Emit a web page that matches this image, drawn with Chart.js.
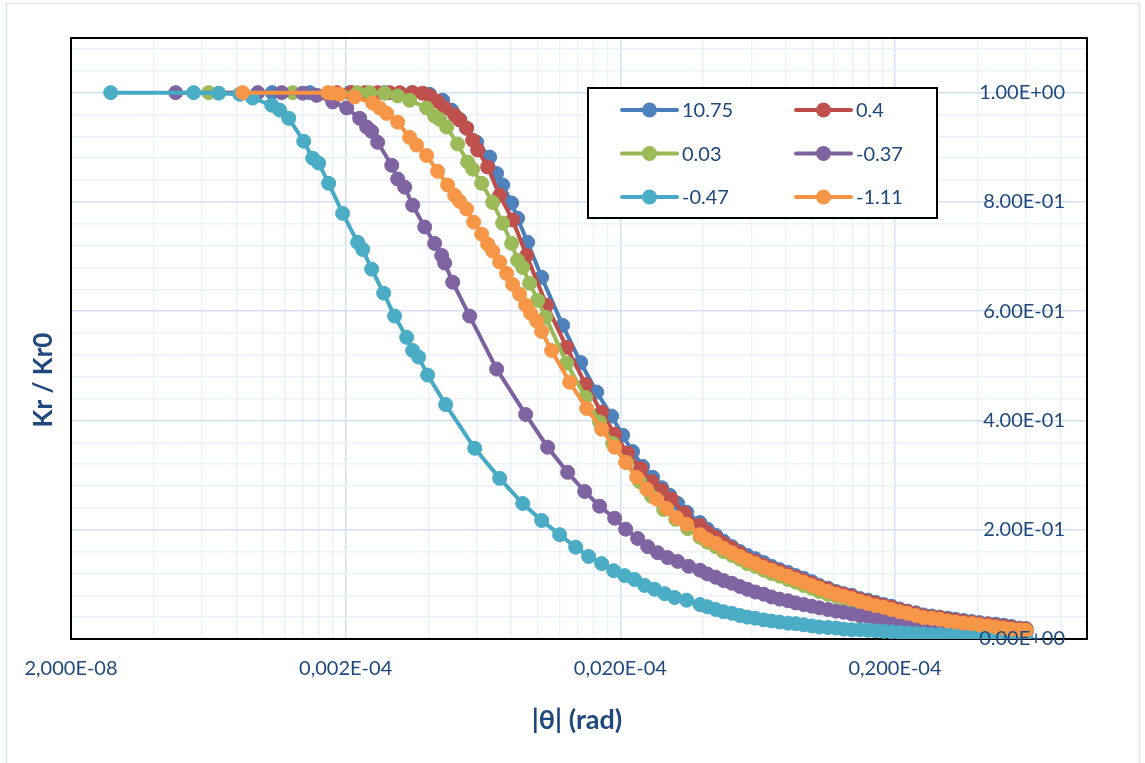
<!DOCTYPE html>
<html>
<head>
<meta charset="utf-8">
<script src="https://cdn.jsdelivr.net/npm/chart.js@4.4.1/dist/chart.umd.min.js"></script>
<style>
  html, body { margin: 0; padding: 0; background: #fff; }
</style>
</head>
<body>
<canvas id="krChart" width="1145" height="763"></canvas>
<script>
// series names as shown in the legend
const seriesNames = ['10.75', '0.4', '0.03', '-0.37', '-0.47', '-1.11'];

// x tick labels (log axis) and the values they sit on
const xMajorTicks = [2e-8, 2e-7, 2e-6, 2e-5];
const xTickLabels = ['2,000E-08', '0,002E-04', '0,020E-04', '0,200E-04'];
// y tick labels
const yTickValues = [0, 0.2, 0.4, 0.6, 0.8, 1.0];
const yTickLabels = ['0.00E+00', '2.00E-01', '4.00E-01', '6.00E-01', '8.00E-01', '1.00E+00'];

// |theta| where the dense tails were read (shared by all series)
const tailTheta = [3.9e-6, 4.15e-6, 4.45e-6, 4.75e-6, 5.1e-6, 5.45e-6, 5.8e-6, 6.2e-6, 6.65e-6, 7.1e-6,
  7.6e-6, 8.15e-6, 8.7e-6, 9.3e-6, 9.95e-6, 1.06e-5, 1.14e-5, 1.22e-5, 1.3e-5, 1.39e-5,
  1.49e-5, 1.59e-5, 1.7e-5, 1.82e-5, 1.94e-5, 2.08e-5, 2.22e-5, 2.38e-5, 2.54e-5, 2.72e-5,
  2.91e-5, 3.11e-5, 3.32e-5, 3.55e-5, 3.8e-5, 4.06e-5, 4.35e-5, 4.65e-5, 4.97e-5, 5.3e-5,
  5.68e-5, 6.0e-5];

// 10.75
const blueTheta = [1.08e-7, 1.48e-7, 2.07e-7, 2.77e-7, 3.48e-7, 4.04e-7, 4.51e-7, 4.86e-7, 5.2e-7, 5.51e-7,
  6.0e-7, 6.69e-7, 7.09e-7, 7.46e-7, 8.04e-7, 8.45e-7, 9.19e-7, 1.034e-6, 1.233e-6, 1.434e-6,
  1.64e-6, 1.859e-6, 2.039e-6, 2.217e-6, 2.411e-6, 2.622e-6, 2.828e-6, 3.024e-6, 3.234e-6, 3.487e-6];
const blueKr = [1.000, 1.000, 1.000, 1.000, 1.000, 0.997, 0.986, 0.968, 0.951, 0.935,
  0.909, 0.882, 0.852, 0.831, 0.798, 0.770, 0.726, 0.662, 0.574, 0.506,
  0.452, 0.408, 0.373, 0.343, 0.316, 0.296, 0.277, 0.263, 0.248, 0.232];
const blueTail = [0.213, 0.201, 0.190, 0.179, 0.169, 0.160, 0.153, 0.147, 0.140, 0.133,
  0.127, 0.122, 0.116, 0.111, 0.105, 0.098, 0.093, 0.087, 0.083, 0.080,
  0.074, 0.071, 0.067, 0.063, 0.060, 0.055, 0.051, 0.048, 0.044, 0.042,
  0.040, 0.038, 0.036, 0.034, 0.032, 0.030, 0.028, 0.027, 0.025, 0.023, 0.020, 0.019];

// 0.4
const redTheta = [1.855e-7, 2.103e-7, 2.345e-7, 2.615e-7, 2.893e-7, 3.146e-7, 3.507e-7, 3.814e-7, 4.044e-7, 4.324e-7,
  4.586e-7, 4.987e-7, 5.2e-7, 5.514e-7, 5.8e-7, 6.047e-7, 6.576e-7, 7.272e-7, 8.107e-7, 9.117e-7,
  1.078e-6, 1.275e-6, 1.495e-6, 1.71e-6, 1.907e-6, 2.126e-6, 2.371e-6, 2.6e-6, 2.828e-6, 3.075e-6, 3.429e-6];
const redKr = [1.000, 1.000, 1.000, 1.000, 1.000, 1.000, 1.000, 0.999, 0.994, 0.984,
  0.972, 0.959, 0.950, 0.935, 0.913, 0.895, 0.864, 0.812, 0.767, 0.702,
  0.611, 0.534, 0.466, 0.415, 0.375, 0.340, 0.312, 0.288, 0.272, 0.256, 0.230];
const redTail = [0.208, 0.195, 0.186, 0.175, 0.166, 0.157, 0.147, 0.142, 0.135, 0.129,
  0.124, 0.118, 0.113, 0.107, 0.102, 0.096, 0.091, 0.085, 0.082, 0.078,
  0.072, 0.069, 0.065, 0.061, 0.058, 0.053, 0.050, 0.046, 0.042, 0.040,
  0.039, 0.036, 0.034, 0.032, 0.030, 0.028, 0.027, 0.025, 0.023, 0.021, 0.019, 0.018];

// 0.03
const greenTheta = [6.34e-8, 1.283e-7, 2.212e-7, 2.446e-7, 2.774e-7, 3.093e-7, 3.42e-7, 3.943e-7, 4.217e-7, 4.397e-7,
  4.663e-7, 5.113e-7, 5.56e-7, 5.8e-7, 6.254e-7, 6.857e-7, 7.455e-7, 8.04e-7, 8.454e-7, 8.82e-7,
  9.351e-7, 1.0e-6, 1.069e-6, 1.275e-6, 1.495e-6, 1.681e-6, 1.875e-6, 2.108e-6, 2.351e-6, 2.6e-6,
  2.876e-6, 3.18e-6, 3.516e-6];
const greenKr = [1.000, 1.000, 1.000, 1.000, 0.999, 0.994, 0.986, 0.972, 0.957, 0.951,
  0.937, 0.906, 0.873, 0.860, 0.834, 0.799, 0.761, 0.724, 0.693, 0.680,
  0.651, 0.620, 0.589, 0.505, 0.442, 0.397, 0.358, 0.323, 0.288, 0.261,
  0.237, 0.219, 0.202];
const greenTail = [0.186, 0.177, 0.169, 0.160, 0.153, 0.146, 0.138, 0.133, 0.126, 0.120,
  0.115, 0.109, 0.104, 0.098, 0.093, 0.087, 0.082, 0.078, 0.074, 0.071,
  0.065, 0.061, 0.058, 0.054, 0.050, 0.047, 0.044, 0.040, 0.037, 0.035,
  0.033, 0.030, 0.028, 0.027, 0.025, 0.023, 0.021, 0.019, 0.018, 0.017, 0.015, 0.014];

// -0.37
const purpleTheta = [4.81e-8, 9.57e-8, 1.17e-7, 1.395e-7, 1.568e-7, 1.794e-7, 2.017e-7, 2.249e-7, 2.385e-7, 2.487e-7,
  2.615e-7, 2.942e-7, 3.093e-7, 3.28e-7, 3.507e-7, 3.879e-7, 4.217e-7, 4.472e-7, 4.586e-7, 4.904e-7,
  5.656e-7, 7.091e-7, 9.041e-7, 1.087e-6, 1.286e-6, 1.483e-6, 1.681e-6, 1.907e-6, 2.091e-6, 2.312e-6,
  2.515e-6, 2.734e-6, 2.974e-6, 3.234e-6, 3.546e-6];
const purpleKr = [1.000, 1.000, 1.000, 0.999, 0.995, 0.983, 0.972, 0.953, 0.937, 0.929,
  0.909, 0.867, 0.842, 0.827, 0.794, 0.754, 0.724, 0.702, 0.688, 0.653,
  0.591, 0.494, 0.411, 0.351, 0.305, 0.270, 0.243, 0.221, 0.201, 0.184,
  0.169, 0.158, 0.149, 0.142, 0.133];
const purpleTail = [0.126, 0.119, 0.113, 0.107, 0.102, 0.096, 0.091, 0.086, 0.082, 0.077,
  0.073, 0.070, 0.066, 0.063, 0.060, 0.057, 0.054, 0.051, 0.049, 0.046,
  0.043, 0.041, 0.039, 0.037, 0.034, 0.032, 0.031, 0.029, 0.028, 0.027,
  0.026, 0.024, 0.023, 0.022, 0.020, 0.019, 0.018, 0.017, 0.016, 0.015, 0.014, 0.012];

// -0.47
const cyanTheta = [2.79e-8, 5.59e-8, 6.9e-8, 8.23e-8, 9.17e-8, 1.076e-7, 1.15e-7, 1.241e-7, 1.407e-7, 1.517e-7,
  1.595e-7, 1.734e-7, 1.95e-7, 2.212e-7, 2.306e-7, 2.487e-7, 2.75e-7, 3.015e-7, 3.335e-7, 3.507e-7,
  3.688e-7, 3.977e-7, 4.624e-7, 5.898e-7, 7.272e-7, 8.82e-7, 1.034e-6, 1.202e-6, 1.375e-6, 1.533e-6,
  1.71e-6, 1.891e-6, 2.074e-6, 2.254e-6, 2.452e-6, 2.666e-6, 2.9e-6, 3.154e-6, 3.487e-6];
const cyanKr = [1.000, 1.000, 0.999, 0.997, 0.990, 0.977, 0.968, 0.953, 0.911, 0.880,
  0.871, 0.834, 0.779, 0.726, 0.713, 0.677, 0.633, 0.591, 0.552, 0.528,
  0.516, 0.483, 0.429, 0.349, 0.294, 0.248, 0.217, 0.191, 0.168, 0.151,
  0.138, 0.125, 0.116, 0.109, 0.098, 0.091, 0.083, 0.076, 0.071];
const cyanTail = [0.063, 0.059, 0.054, 0.050, 0.047, 0.043, 0.040, 0.038, 0.035, 0.033,
  0.031, 0.029, 0.028, 0.026, 0.024, 0.022, 0.021, 0.020, 0.018, 0.017,
  0.017, 0.016, 0.015, 0.014, 0.013, 0.012, 0.011, 0.010, 0.009, 0.008,
  0.008, 0.007, 0.006, 0.006, 0.005, 0.005, 0.004, 0.004, 0.003, 0.003, 0.002, 0.002];

// -1.11
const orangeTheta = [8.43e-8, 1.72e-7, 1.794e-7, 1.902e-7, 2.157e-7, 2.508e-7, 2.66e-7, 2.82e-7, 3.093e-7, 3.42e-7,
  3.627e-7, 3.943e-7, 4.324e-7, 4.702e-7, 4.987e-7, 5.2e-7, 5.514e-7, 5.848e-7, 6.254e-7, 6.576e-7,
  6.857e-7, 7.272e-7, 7.71e-7, 8.107e-7, 8.598e-7, 9.041e-7, 9.431e-7, 9.917e-7, 1.034e-6, 1.124e-6,
  1.308e-6, 1.508e-6, 1.71e-6, 1.907e-6, 2.091e-6, 2.293e-6, 2.494e-6, 2.711e-6, 2.949e-6, 3.206e-6, 3.487e-6];
const orangeKr = [1.000, 1.000, 0.999, 0.997, 0.992, 0.981, 0.972, 0.962, 0.946, 0.918,
  0.904, 0.885, 0.856, 0.831, 0.812, 0.801, 0.787, 0.763, 0.741, 0.723,
  0.710, 0.690, 0.669, 0.649, 0.631, 0.611, 0.596, 0.582, 0.563, 0.528,
  0.470, 0.422, 0.384, 0.351, 0.323, 0.296, 0.274, 0.256, 0.239, 0.222, 0.210];
const orangeTail = [0.191, 0.182, 0.175, 0.166, 0.158, 0.151, 0.144, 0.138, 0.131, 0.126,
  0.120, 0.115, 0.109, 0.104, 0.098, 0.093, 0.087, 0.082, 0.078, 0.074,
  0.069, 0.065, 0.061, 0.058, 0.054, 0.050, 0.047, 0.043, 0.039, 0.038,
  0.036, 0.033, 0.031, 0.029, 0.028, 0.026, 0.024, 0.022, 0.020, 0.018, 0.017, 0.016];

const lineColors = ['#4A7EBB', '#BE4B48', '#98B954', '#7D60A0', '#46AAC5', '#F69240'];
const markerColors = ['#4F81BD', '#C0504D', '#9BBB59', '#8064A2', '#4BACC6', '#F79646'];
const textColor = '#1F497D';
const majorGrid = '#D3E0F1';
const minorGrid = '#EBF1F9';

const seriesParts = [
  [blueTheta, blueKr, blueTail],
  [redTheta, redKr, redTail],
  [greenTheta, greenKr, greenTail],
  [purpleTheta, purpleKr, purpleTail],
  [cyanTheta, cyanKr, cyanTail],
  [orangeTheta, orangeKr, orangeTail]
];

function toPoints(theta, kr, tail) {
  const pts = theta.map((t, i) => ({ x: t, y: kr[i] }));
  tailTheta.forEach((t, i) => pts.push({ x: t, y: tail[i] }));
  return pts;
}

// grid positions: Excel-style log minor lines at k * (decade start)
const xGridValues = [];
xMajorTicks.forEach(m => {
  for (let k = 1; k <= 9; k++) {
    if (m * k <= 1e-4 * 1.000001) xGridValues.push(m * k);
  }
});
const yGridValues = [];
for (let i = 0; i <= 27; i++) yGridValues.push(Math.round(i * 4) / 100);

const isMajorX = v => xMajorTicks.some(m => Math.abs(v / m - 1) < 1e-6);
const isMajorY = v => Math.abs(v * 5 - Math.round(v * 5)) < 1e-6;

const decor = {
  id: 'decor',
  beforeDraw(chart) {
    const ctx = chart.ctx;
    ctx.save();
    ctx.fillStyle = '#fff';
    ctx.fillRect(0, 0, chart.width, chart.height);
    ctx.strokeStyle = '#D9E3F1';
    ctx.lineWidth = 1.5;
    ctx.strokeRect(6.5, 3.5, 1133, 780);
    ctx.restore();
  },
  beforeDatasetsDraw(chart) {
    const ctx = chart.ctx, a = chart.chartArea;
    ctx.save();
    ctx.strokeStyle = '#000';
    ctx.lineWidth = 2;
    ctx.strokeRect(a.left, a.top, a.right - a.left, a.bottom - a.top);
    ctx.restore();
  },
  afterDatasetsDraw(chart) {
    const ctx = chart.ctx, a = chart.chartArea, ys = chart.scales.y;
    ctx.save();
    // y tick labels, drawn inside the plot on the right
    ctx.font = '20px Lato';
    ctx.fillStyle = textColor;
    ctx.textAlign = 'right';
    ctx.textBaseline = 'middle';
    yTickValues.forEach((v, i) => ctx.fillText(yTickLabels[i], a.right - 22, ys.getPixelForValue(v)));

    // axis titles
    ctx.textAlign = 'center';
    ctx.font = 'bold 27px Lato';
    ctx.fillText('|\u03b8| (rad)', 577, 720);
    ctx.font = 'bold 26px Lato';
    ctx.save();
    ctx.translate(44, 380);
    ctx.rotate(-Math.PI / 2);
    ctx.fillText('Kr / Kr0', 0, 0);
    ctx.restore();

    // legend box
    ctx.fillStyle = '#fff';
    ctx.fillRect(588, 88, 349, 130);
    ctx.strokeStyle = '#000';
    ctx.lineWidth = 2;
    ctx.strokeRect(588, 88, 349, 130);
    ctx.font = '20px Lato';
    ctx.textAlign = 'left';
    chart.data.datasets.forEach((ds, i) => {
      const x0 = i % 2 ? 796 : 622;
      const y = 110 + Math.floor(i / 2) * 43.5;
      ctx.strokeStyle = lineColors[i];
      ctx.lineWidth = 4;
      ctx.lineCap = 'round';
      ctx.beginPath();
      ctx.moveTo(x0, y);
      ctx.lineTo(x0 + 55, y);
      ctx.stroke();
      ctx.fillStyle = markerColors[i];
      ctx.beginPath();
      ctx.arc(x0 + 27.5, y, 7.5, 0, Math.PI * 2);
      ctx.fill();
      ctx.fillStyle = textColor;
      ctx.fillText(ds.label, x0 + 60, y + 1);
    });
    ctx.restore();
  }
};

new Chart(document.getElementById('krChart').getContext('2d'), {
  type: 'line',
  data: {
    datasets: seriesNames.map((name, i) => ({
      label: name,
      data: toPoints(...seriesParts[i]),
      borderColor: lineColors[i],
      backgroundColor: markerColors[i],
      pointBackgroundColor: markerColors[i],
      pointBorderColor: markerColors[i],
      pointBorderWidth: 1,
      pointRadius: 7,
      borderWidth: 4,
      tension: 0,
      fill: false,
      order: seriesNames.length - i
    }))
  },
  options: {
    responsive: false,
    animation: false,
    events: [],
    layout: { padding: { left: 71, top: 38, right: 0, bottom: 0 } },
    plugins: {
      legend: { display: false },
      tooltip: { enabled: false }
    },
    scales: {
      x: {
        type: 'logarithmic',
        position: 'bottom',
        min: 2e-8,
        max: 1e-4,
        afterBuildTicks: scale => { scale.ticks = xGridValues.map(v => ({ value: v })); },
        afterFit: scale => { scale.height = 124; },
        border: { display: false },
        grid: {
          drawTicks: false,
          lineWidth: 1.5,
          color: c => (c.tick && isMajorX(c.tick.value) ? majorGrid : minorGrid)
        },
        ticks: {
          autoSkip: false,
          maxRotation: 0,
          minRotation: 0,
          padding: 18,
          color: textColor,
          font: { family: 'Lato', size: 20 },
          callback: v => {
            const i = xMajorTicks.findIndex(m => Math.abs(v / m - 1) < 1e-6);
            return i >= 0 ? xTickLabels[i] : '';
          }
        }
      },
      y: {
        type: 'linear',
        position: 'right',
        min: 0,
        max: 1.1,
        afterBuildTicks: scale => { scale.ticks = yGridValues.map(v => ({ value: v })); },
        afterFit: scale => { scale.width = 58; },
        border: { display: false },
        grid: {
          drawTicks: false,
          lineWidth: 1.5,
          color: c => (c.tick && isMajorY(c.tick.value) ? majorGrid : minorGrid)
        },
        ticks: { display: false }
      }
    }
  },
  plugins: [decor]
});
</script>
</body>
</html>
